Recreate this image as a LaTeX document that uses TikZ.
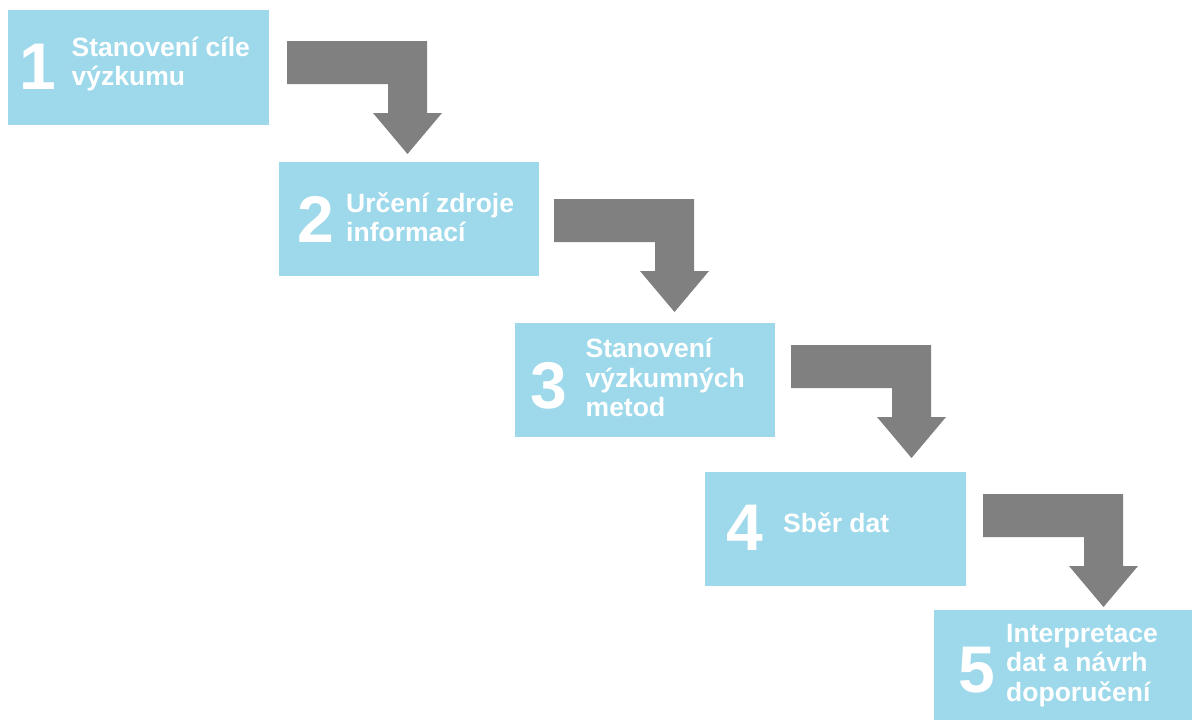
\documentclass[tikz,border=0pt]{standalone}
\usepackage{fontspec}
\setmainfont{Liberation Sans}
\definecolor{boxblue}{RGB}{157,217,234}
\definecolor{arrgray}{RGB}{128,128,128}
\tikzset{
  stepbox/.style={fill=boxblue, draw=none, inner sep=0pt, anchor=north west},
  num/.style={text=white, inner sep=0pt, anchor=base, font=\fontsize{66}{66}\selectfont\bfseries},
  lbl/.style={text=white, inner sep=0pt, anchor=base west, font=\fontsize{26.5}{29.5}\selectfont\bfseries},
  bentarr/.pic={
    \fill[arrgray] (0,0) -- (140,0) -- (140,72) -- (155,72) -- (120.5,113) -- (86,72) -- (101,72) -- (101,43) -- (0,43) -- cycle;
  }
}
\begin{document}
\begin{tikzpicture}[x=1pt,y=-1pt]
\useasboundingbox (0,0) rectangle (1192,720);
% boxes
\node[stepbox, minimum width=261pt, minimum height=115pt] (b1) at (8,10) {};
\node[stepbox, minimum width=260pt, minimum height=114pt] (b2) at (279,162) {};
\node[stepbox, minimum width=260pt, minimum height=114pt] (b3) at (515,323) {};
\node[stepbox, minimum width=261pt, minimum height=114pt] (b4) at (705,472) {};
\node[stepbox, minimum width=258pt, minimum height=112pt] (b5) at (934,610) {};
% numbers
\node[num] (n1) at (38,89) {1};
\node[num] (n2) at (315.5,242) {2};
\node[num] (n3) at (549,408) {3};
\node[num] (n4) at (744.5,550) {4};
\node[num] (n5) at (976.5,692) {5};
% labels
\node[lbl] (t1a) at (71.5,56) {Stanovení cíle};
\node[lbl] (t1b) at (71.5,85) {výzkumu};
\node[lbl] (t2a) at (346,212) {Určení zdroje};
\node[lbl] (t2b) at (346,241) {informací};
\node[lbl] (t3a) at (585.5,357) {Stanovení};
\node[lbl] (t3b) at (585.5,387) {výzkumných};
\node[lbl] (t3c) at (585.5,416) {metod};
\node[lbl] (t4a) at (783,532) {Sběr dat};
\node[lbl] (t5a) at (1006,642) {Interpretace};
\node[lbl] (t5b) at (1006,671) {dat a návrh};
\node[lbl] (t5c) at (1006,701) {doporučení};
% arrows
\coordinate (a1) at (287,41);
\coordinate (a2) at (554,199);
\coordinate (a3) at (791,345);
\coordinate (a4) at (983,494);
\pic at (a1) {bentarr};
\pic at (a2) {bentarr};
\pic at (a3) {bentarr};
\pic at (a4) {bentarr};
\end{tikzpicture}
\end{document}
